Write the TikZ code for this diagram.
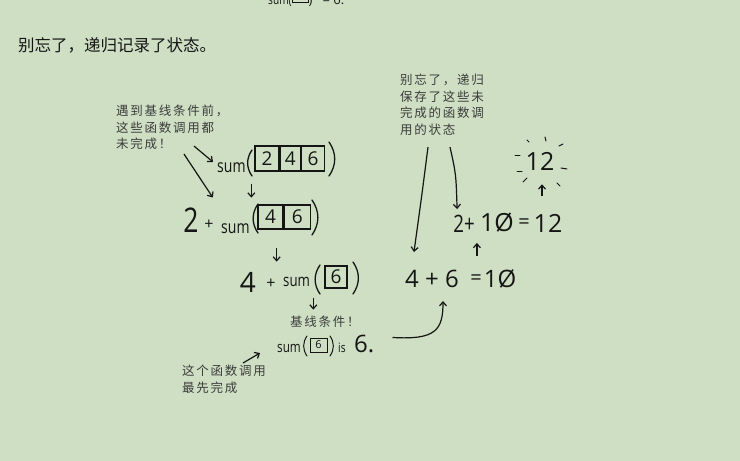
\documentclass[tikz,border=0pt]{standalone}
\usepackage{fontspec}
\usepackage{graphicx}
\usetikzlibrary{arrows.meta,positioning,calc}
\newfontfamily\cjk{Noto Sans CJK SC}
\newfontfamily\hand{Open Sans}
\definecolor{paper}{HTML}{CEDFC3}
\definecolor{ink}{HTML}{151515}
\definecolor{notegray}{HTML}{3C3C3C}
\newcommand{\narrow}[1]{\scalebox{0.78}[1]{#1}}

\tikzset{
  jot/.style={font=\cjk\addfontfeature{LetterSpace=14}\fontsize{12.5}{16.5}\selectfont,
    text=notegray, align=left, inner sep=0pt, anchor=north west},
  big/.style={font=\hand\fontsize{#1}{#1}\selectfont, inner sep=0pt, text=ink},
  word/.style={font=\hand\fontsize{#1}{#1}\selectfont, inner sep=0pt, anchor=base west, text=ink},
  cell/.style={draw=ink, line width=1.3pt, minimum width=#1, minimum height=25pt,
    inner sep=0pt, font=\hand\fontsize{19}{19}\selectfont, text=ink},
  pen/.style={draw=ink, line width=1.2pt, -{Straight Barb[length=4pt,width=7pt]}},
  curl/.style={draw=ink, line width=1.3pt, line cap=round},
  ray/.style={draw=ink, line width=1pt, line cap=round},
}

\begin{document}
\begin{tikzpicture}[x=1pt,y=-1pt]
  \fill[paper] (0,0) rectangle (740,461);
  \useasboundingbox (0,0) rectangle (740,461);

  % cut-off line from above
  \node[word=13] (prev) at (268,4) {\narrow{sum(}\hspace{17pt}) \ \ = 6.};
  \draw[ink, line width=1pt] (292,-14) rectangle (308,2);

  \node[anchor=west, font=\cjk\fontsize{16.5}{16.5}\selectfont, text=ink, inner sep=0pt]
    (title) at (18,45) {别忘了，递归记录了状态。};

  % left column: calls going down
  \node[word=18] (sumA) at (217,172) {\narrow{sum}};
  \node[cell=24pt] (a1) at (267,158.5) {2};
  \node[cell=20pt, right=0pt of a1] (a2) {4};
  \node[cell=23pt, right=0pt of a2] (a3) {6};
  \draw[curl] (252,150) to[bend right=35] (252,176);
  \draw[curl] (329,142) to[bend left=35] (329,176);

  \node[big=34] (two) at (191,220) {\narrow{2}};
  \node[word=16, anchor=center] (plusB) at (209,225) {+};
  \node[word=18] (sumB) at (221,233) {\narrow{sum}};
  \node[cell=25pt, minimum height=24pt] (b1) at (270.5,217) {4};
  \node[cell=26pt, minimum height=24pt, right=0pt of b1] (b2) {6};
  \draw[curl] (258,204) to[bend right=35] (258,233);
  \draw[curl] (312,200) to[bend left=35] (312,235);

  \node[big=28] (four) at (248,282) {4};
  \node[word=16, anchor=center] (plusC) at (271,284) {+};
  \node[word=17] (sumC) at (283,286) {\narrow{sum}};
  \node[cell=22pt, minimum height=22pt] (c1) at (336,277) {6};
  \draw[curl] (320,265) to[bend right=35] (320,294);
  \draw[curl] (353,262) to[bend left=35] (353,294);

  \node[jot] (basenote) at (290,316) {基线条件！};
  \node[word=15] (sumD) at (277,352) {\narrow{sum}};
  \node[cell=17pt, minimum height=14pt, line width=1pt, font=\hand\fontsize{11}{11}\selectfont] (d1) at (318.5,345) {6};
  \draw[curl, line width=1pt] (307,336) to[bend right=35] (307,356);
  \draw[curl, line width=1pt] (330,336) to[bend left=35] (330,356);
  \node[word=13] (isD) at (338,352) {\narrow{is}};
  \node[big=24, anchor=base west] (six) at (354,352) {6.};

  \draw[pen] ($(a1.south west)+(-3,12)$) -- ++(0,14);
  \draw[pen] ($(b1.south east)+(-7,18)$) -- ++(0,14);
  \draw[pen] ($(c1.south west)+(-11,9)$) -- ++(0,12);

  % notes on the left
  \node[jot] (leftnote) at (116,105) {遇到基线条件前，\\这些函数调用都\\未完成！};
  \draw[pen] ($(leftnote.south west)+(78,-4)$) -- ($(sumA.north west)+(-4,0)$);
  \draw[pen] ($(leftnote.south west)+(68,4)$) -- ($(two.north east)+(14,-10)$);
  \node[jot] (firstnote) at (182,365) {这个函数调用\\最先完成};
  \draw[pen] ($(firstnote.north west)+(61,-2)$) -- ++(17,-10);

  % right column: returns going up
  \node[big=24] (lfour) at (432,279) {4 + 6};
  \node[big=20] (leq) at (476,280) {=};
  \node[big=24] (lten) at (500,279) {1Ø};

  \node[big=24] (utwo) at (464,224) {\narrow{2+}};
  \node[big=25] (uten) at (497,223) {1Ø};
  \node[big=20] (ueq) at (524,224) {=};
  \node[big=25] (utwelve) at (548,223) {12};

  \node[big=25] (twelve) at (540,161) {12};
  \foreach \ax/\ay/\bx/\by in {-25/-6/5/0, -23/10/5/0, -13/-21/2/2, 5/-24/1/4,
                               19/-15/4/-2, 21/7/6/1, -17/21/4/-4, 17/22/3/3}
    \draw[ray] ($(twelve.center)+(\ax,\ay)$) -- ++(\bx,\by);

  \draw[pen] ($(uten.south west)+(-3,23)$) -- ++(0,-13);
  \draw[pen] ($(twelve.south)+(2,26)$) -- ++(0,-12);

  \node[jot] (rightnote) at (400,74) {别忘了，递归\\保存了这些未\\完成的函数调\\用的状态};
  \draw[pen] ($(rightnote.north west)+(28,73)$) .. controls ($(rightnote.north west)+(22,120)$) .. ($(lfour.north west)+(9,-18)$);
  \draw[pen] ($(rightnote.north west)+(50,73)$) .. controls ($(rightnote.north west)+(56,100)$) .. ($(utwo.north west)+(4,-6)$);

  \draw[pen] ($(six.east)+(18,-6)$) .. controls (436,340) and (443,330) .. ($(lfour.south)+(11,13)$);
\end{tikzpicture}
\end{document}
